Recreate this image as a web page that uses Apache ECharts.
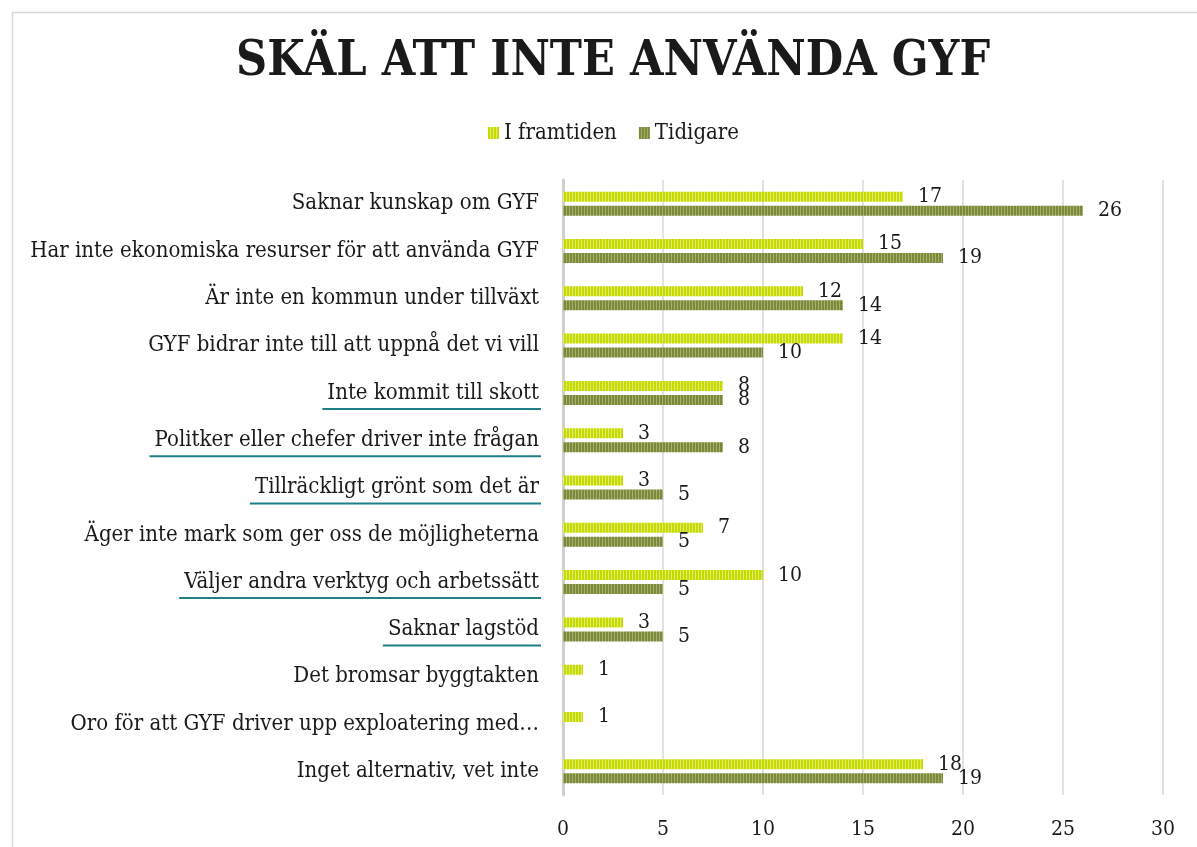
<!DOCTYPE html>
<html><head><meta charset="utf-8">
<script src="https://cdn.jsdelivr.net/npm/echarts@6/dist/echarts.min.js"></script>
<style>html,body{margin:0;padding:0;background:#fff}#c{width:1197px;height:847px}</style>
</head><body><div id="c"></div>
<script>
const categories = [
  "Saknar kunskap om GYF",
  "Har inte ekonomiska resurser för att använda GYF",
  "Är inte en kommun under tillväxt",
  "GYF bidrar inte till att uppnå det vi vill",
  "Inte kommit till skott",
  "Politker eller chefer driver inte frågan",
  "Tillräckligt grönt som det är",
  "Äger inte mark som ger oss de möjligheterna",
  "Väljer andra verktyg och arbetssätt",
  "Saknar lagstöd",
  "Det bromsar byggtakten",
  "Oro för att GYF driver upp exploatering med…",
  "Inget alternativ, vet inte"
];
const underlined = [
  "Inte kommit till skott",
  "Politker eller chefer driver inte frågan",
  "Tillräckligt grönt som det är",
  "Väljer andra verktyg och arbetssätt",
  "Saknar lagstöd"
];
const framtiden = [17, 15, 12, 14, 8, 3, 3, 7, 10, 3, 1, 1, 18];
const tidigare = [26, 19, 14, 10, 8, 8, 5, 5, 5, 5, null, null, 19];
const xTicks = [0, 5, 10, 15, 20, 25, 30];

const FONT = "'DejaVu Serif Condensed', 'DejaVu Serif', serif";
const LABEL_SIZE = 22;

function stripe(base, light) {
  const c = document.createElement('canvas');
  c.width = 3; c.height = 3;
  const g = c.getContext('2d');
  g.fillStyle = base; g.fillRect(0, 0, 3, 3);
  g.fillStyle = light; g.fillRect(2, 0, 1, 3);
  return { image: c, repeat: 'repeat' };
}
const yellowPat = stripe('#c6da00', '#e0ec70');
const olivePat = stripe('#7a8a38', '#a5b070');

const chart = echarts.init(document.getElementById('c'), null, { renderer: 'canvas' });

const labelCfg = {
  show: true, position: 'right', distance: 15,
  fontFamily: FONT, fontSize: 21, color: '#1a1a1a'
};

const border = { type: 'rect', left: 10, top: 10, shape: { width: 1200, height: 900 },
  style: { fill: 'none', stroke: '#d9d9d9', lineWidth: 1.5 }, silent: true };

chart.setOption({
  animation: false,
  title: {
    text: 'SKÄL ATT INTE ANVÄNDA GYF',
    left: 231, top: 34,
    textStyle: { fontFamily: FONT, fontWeight: 'bold', fontSize: 48, color: '#1a1a1a' }
  },
  legend: {
    top: 117, left: 483,
    itemWidth: 11, itemHeight: 12, itemGap: 22,
    icon: 'rect',
    textStyle: { fontFamily: FONT, fontSize: 22, color: '#1a1a1a' },
    data: ['I framtiden', 'Tidigare']
  },
  grid: { left: 563, right: 34, top: 180, bottom: 52, containLabel: false },
  xAxis: {
    type: 'value', min: 0, max: 30, interval: 5,
    axisLine: { show: false }, axisTick: { show: false },
    splitLine: { lineStyle: { color: '#d9d9d9', width: 1.5 } },
    axisLabel: { margin: 24, fontFamily: FONT, fontSize: 21, color: '#1a1a1a',
      formatter: v => xTicks.includes(v) ? String(v) : '' }
  },
  yAxis: {
    type: 'category', inverse: true, data: categories,
    axisLine: { lineStyle: { color: '#d0d0d0', width: 3 } },
    axisTick: { show: false },
    axisLabel: { margin: 24, fontFamily: FONT, fontSize: LABEL_SIZE, color: '#1a1a1a' }
  },
  series: [
    { name: 'I framtiden', type: 'bar', data: framtiden, barWidth: 10, barGap: '40%',
      itemStyle: { color: yellowPat }, label: labelCfg },
    { name: 'Tidigare', type: 'bar', data: tidigare, barWidth: 10, barGap: '40%',
      itemStyle: { color: olivePat }, label: labelCfg }
  ],
  graphic: [border]
});

// underlines under selected category labels
const ctx = document.createElement('canvas').getContext('2d');
ctx.font = LABEL_SIZE + "px " + FONT;
const axisX = chart.convertToPixel({ xAxisIndex: 0 }, 0);
const textRight = axisX - 24;
const lines = underlined.map(name => {
  const y = chart.convertToPixel({ yAxisIndex: 0 }, name);
  const w = ctx.measureText(name).width;
  return {
    type: 'line', silent: true,
    shape: { x1: textRight - w - 5, y1: y + 16, x2: textRight + 2, y2: y + 16 },
    style: { stroke: '#1f7f86', lineWidth: 2 }
  };
});
chart.setOption({ graphic: [border, ...lines] });
</script></body></html>
